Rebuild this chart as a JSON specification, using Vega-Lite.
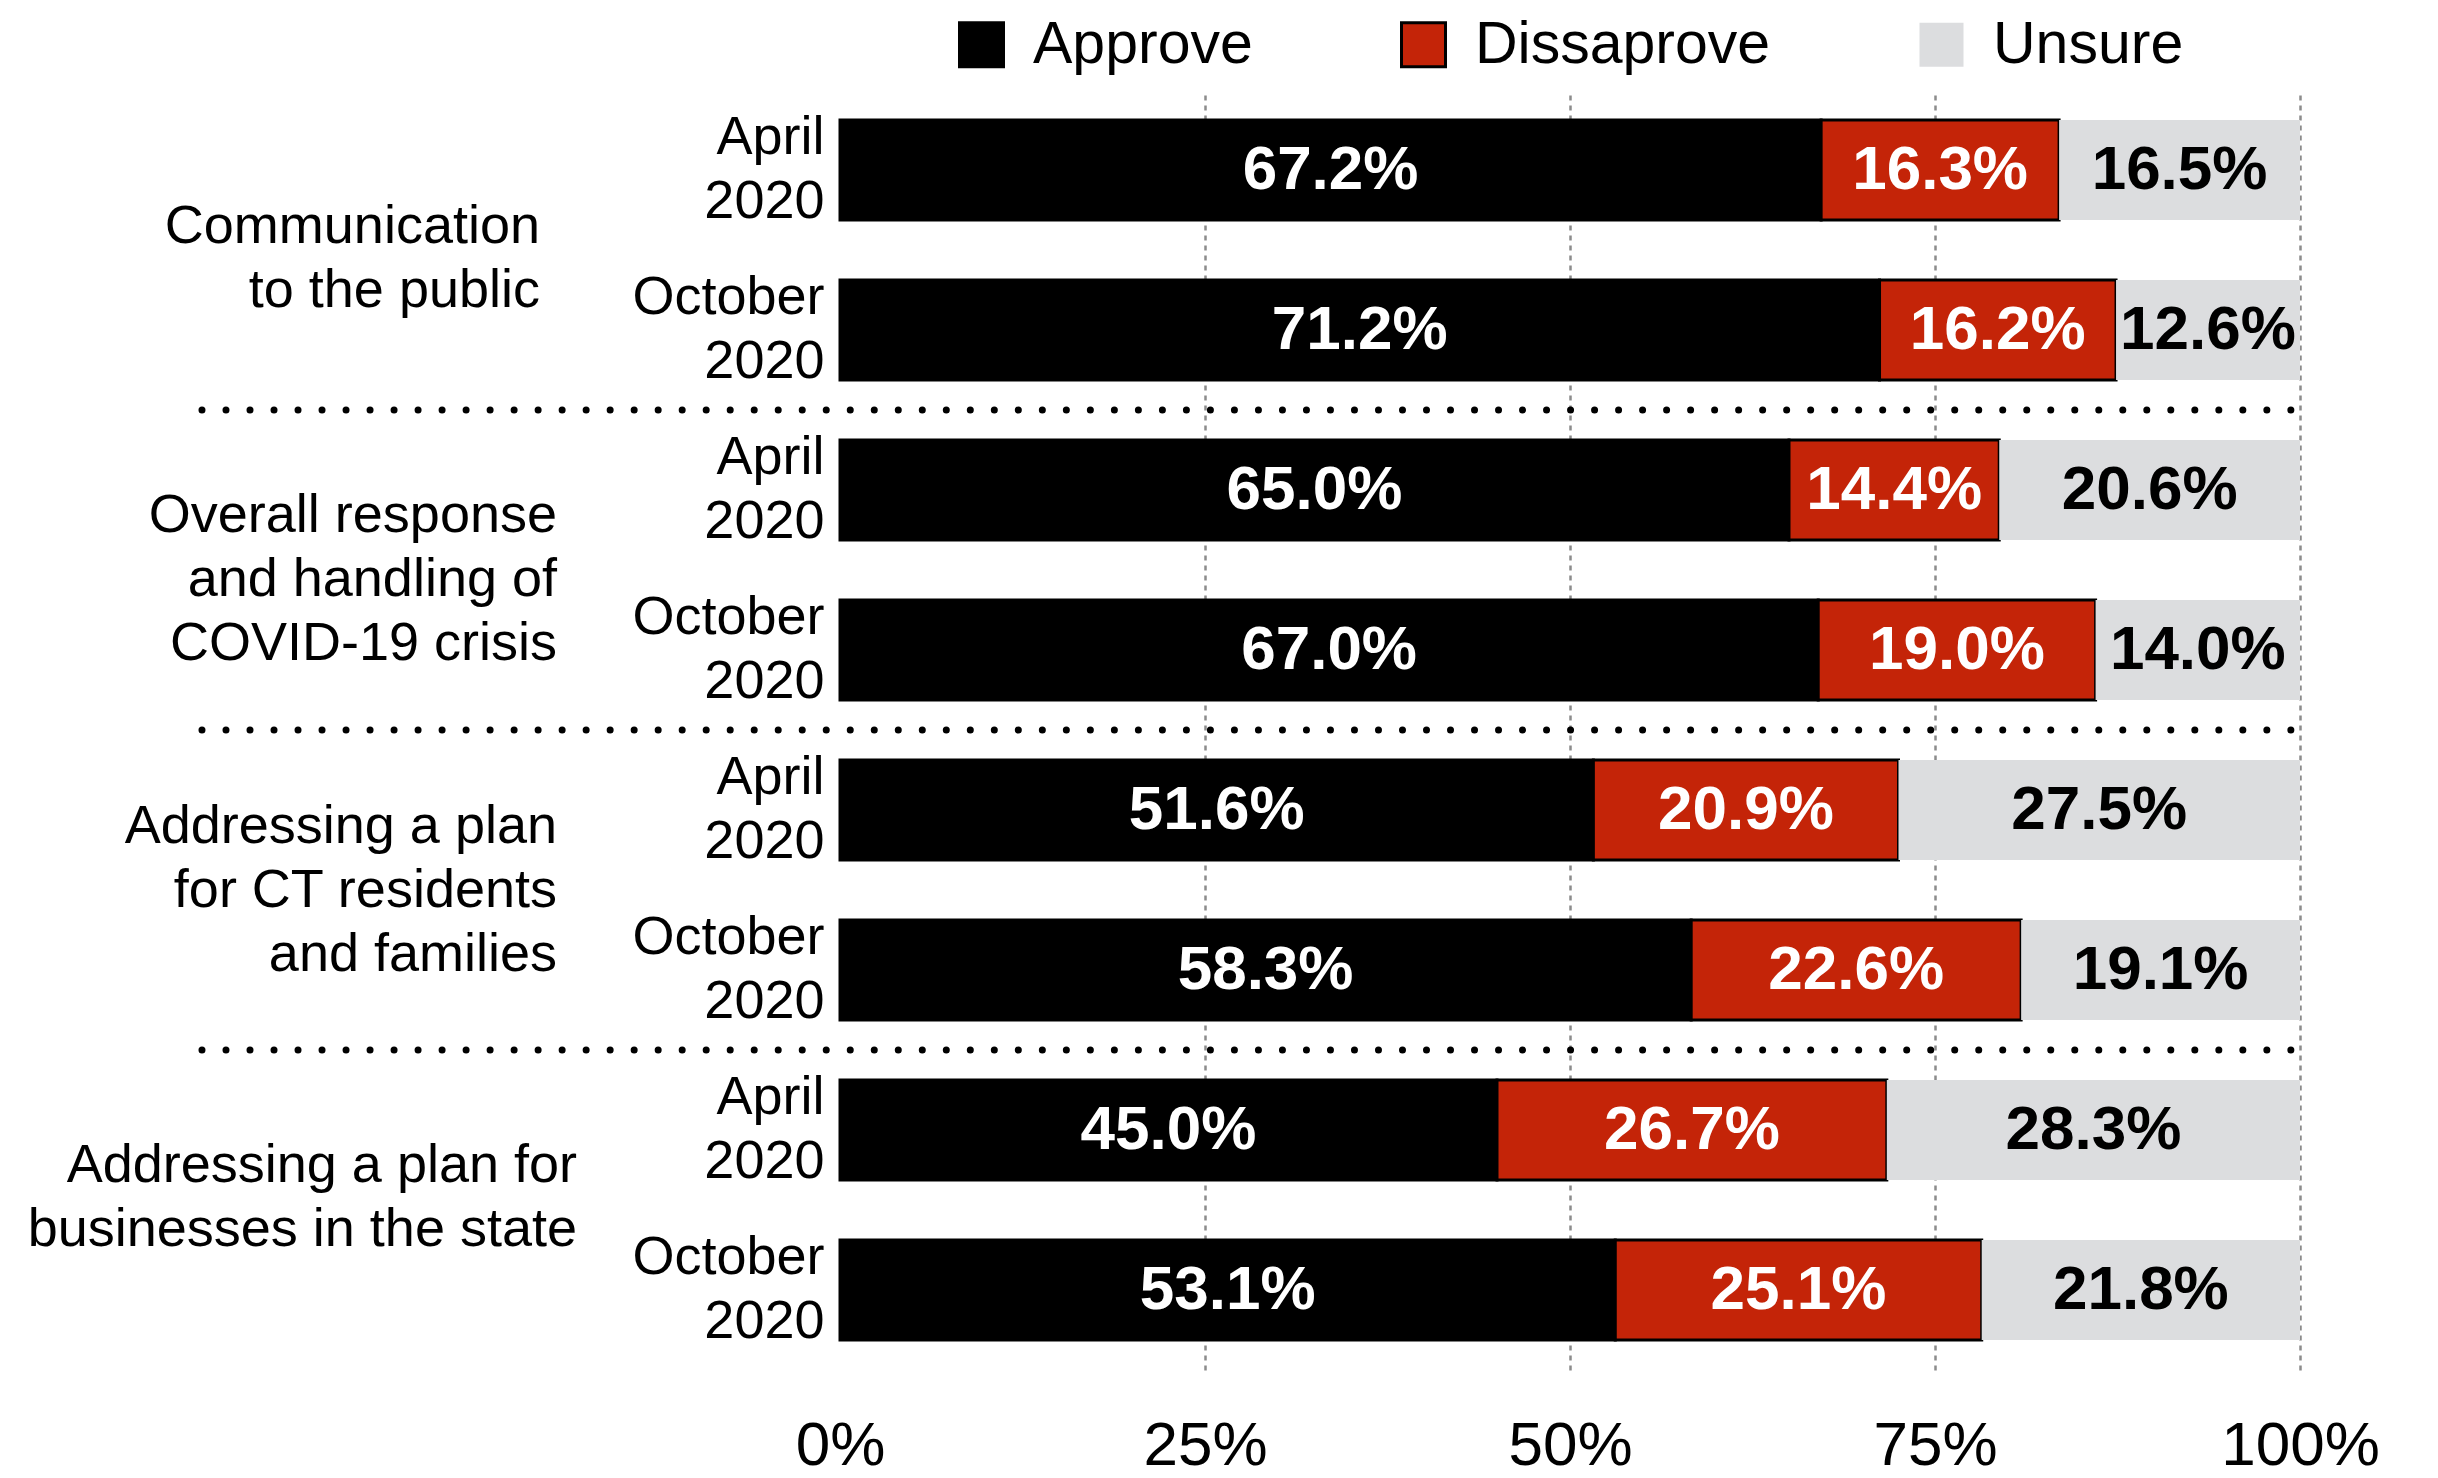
{
  "$schema": "https://vega.github.io/schema/vega-lite/v6.json",
  "width": 1460,
  "height": 1280,
  "autosize": {"type": "none"},
  "padding": {"left": 840, "top": 90, "right": 138, "bottom": 108},
  "background": "white",
  "config": {"view": {"stroke": null}, "font": "Liberation Sans"},
  "datasets": {
    "bars": [
      {"row": "Communication|April 2020", "answer": "Approve", "value": 0.672},
      {"row": "Communication|April 2020", "answer": "Dissaprove", "value": 0.163},
      {"row": "Communication|April 2020", "answer": "Unsure", "value": 0.165},
      {"row": "Communication|October 2020", "answer": "Approve", "value": 0.712},
      {"row": "Communication|October 2020", "answer": "Dissaprove", "value": 0.162},
      {"row": "Communication|October 2020", "answer": "Unsure", "value": 0.126},
      {"row": "Overall|April 2020", "answer": "Approve", "value": 0.650},
      {"row": "Overall|April 2020", "answer": "Dissaprove", "value": 0.144},
      {"row": "Overall|April 2020", "answer": "Unsure", "value": 0.206},
      {"row": "Overall|October 2020", "answer": "Approve", "value": 0.670},
      {"row": "Overall|October 2020", "answer": "Dissaprove", "value": 0.190},
      {"row": "Overall|October 2020", "answer": "Unsure", "value": 0.140},
      {"row": "Residents|April 2020", "answer": "Approve", "value": 0.516},
      {"row": "Residents|April 2020", "answer": "Dissaprove", "value": 0.209},
      {"row": "Residents|April 2020", "answer": "Unsure", "value": 0.275},
      {"row": "Residents|October 2020", "answer": "Approve", "value": 0.583},
      {"row": "Residents|October 2020", "answer": "Dissaprove", "value": 0.226},
      {"row": "Residents|October 2020", "answer": "Unsure", "value": 0.191},
      {"row": "Businesses|April 2020", "answer": "Approve", "value": 0.450},
      {"row": "Businesses|April 2020", "answer": "Dissaprove", "value": 0.267},
      {"row": "Businesses|April 2020", "answer": "Unsure", "value": 0.283},
      {"row": "Businesses|October 2020", "answer": "Approve", "value": 0.531},
      {"row": "Businesses|October 2020", "answer": "Dissaprove", "value": 0.251},
      {"row": "Businesses|October 2020", "answer": "Unsure", "value": 0.218}
    ],
    "groups": [
      {"row": "Communication|October 2020", "label": "Communication\nto the public"},
      {"row": "Overall|October 2020", "label": "Overall response\nand handling of\nCOVID-19 crisis"},
      {"row": "Residents|October 2020", "label": "Addressing a plan\nfor CT residents\nand families"},
      {"row": "Businesses|October 2020", "label": "Addressing a plan for\nbusinesses in the state"}
    ],
    "seps": [
      {"row": "Overall|April 2020"},
      {"row": "Residents|April 2020"},
      {"row": "Businesses|April 2020"}
    ]
  },
  "layer": [
    {
      "data": {"name": "bars"},
      "mark": {"type": "bar", "strokeWidth": 3},
      "encoding": {
        "y": {
          "field": "row", "type": "nominal",
          "scale": {
            "domain": ["Communication|April 2020", "Communication|October 2020", "Overall|April 2020", "Overall|October 2020", "Residents|April 2020", "Residents|October 2020", "Businesses|April 2020", "Businesses|October 2020"],
            "paddingInner": 0.375, "paddingOuter": 0.1875
          },
          "axis": {
            "title": null, "domain": false, "ticks": false, "grid": false,
            "labelExpr": "split(split(datum.value, '|')[1], ' ')",
            "labelFontSize": 54, "labelLineHeight": 64, "labelPadding": 16,
            "labelOffset": -32,
            "labelColor": "black", "labelFont": "Liberation Sans",
            "labelAlign": "right", "labelBaseline": "middle", "labelLimit": 0
          }
        },
        "x": {
          "field": "value", "type": "quantitative", "stack": "zero",
          "scale": {"domain": [0, 1], "nice": false},
          "axis": {
            "title": null, "domain": false, "ticks": false, "format": "%",
            "values": [0, 0.25, 0.5, 0.75, 1],
            "labelFontSize": 62, "labelPadding": 45, "labelColor": "black",
            "labelFont": "Liberation Sans", "labelFlush": false,
            "grid": true, "gridDash": [5, 5], "gridColor": "#8c8c8c", "gridWidth": 2.5,
            "gridOpacity": {"condition": {"test": "datum.value === 0", "value": 0}, "value": 1}
          }
        },
        "order": {"field": "answer", "type": "ordinal", "sort": "ascending"},
        "fill": {
          "field": "answer", "type": "nominal",
          "scale": {"domain": ["Approve", "Dissaprove", "Unsure"], "range": ["#000000", "#C42408", "#DCDDDF"]},
          "legend": {
            "title": null, "orient": "none", "legendX": 112, "legendY": -75,
            "direction": "horizontal", "symbolType": "square", "symbolSize": 1936,
            "symbolStrokeWidth": 3, "labelFontSize": 59, "labelFont": "Liberation Sans",
            "labelColor": "black", "labelOffset": 22, "columnPadding": 141,
            "padding": 0, "labelLimit": 0
          }
        },
        "stroke": {
          "field": "answer", "type": "nominal",
          "scale": {"domain": ["Approve", "Dissaprove", "Unsure"], "range": ["#000000", "#000000", "rgba(0,0,0,0)"]},
          "legend": {
            "title": null, "orient": "none", "legendX": 112, "legendY": -75,
            "direction": "horizontal", "symbolType": "square", "symbolSize": 1936,
            "symbolStrokeWidth": 3, "labelFontSize": 59, "labelFont": "Liberation Sans",
            "labelColor": "black", "labelOffset": 22, "columnPadding": 141,
            "padding": 0, "labelLimit": 0
          }
        }
      }
    },
    {
      "data": {"name": "bars"},
      "mark": {"type": "text", "fontSize": 62, "fontWeight": "bold", "baseline": "middle", "align": "center", "font": "Liberation Sans"},
      "encoding": {
        "y": {"field": "row", "type": "nominal"},
        "x": {"field": "value", "type": "quantitative", "stack": "zero", "bandPosition": 0.5},
        "order": {"field": "answer", "type": "ordinal", "sort": "ascending"},
        "detail": {"field": "answer", "type": "nominal"},
        "text": {"field": "value", "type": "quantitative", "format": ".1%"},
        "color": {"condition": {"test": "datum.answer === 'Unsure'", "value": "black"}, "value": "white"}
      }
    },
    {
      "data": {"name": "seps"},
      "mark": {"type": "rule", "strokeDash": [0.01, 24], "strokeCap": "round", "strokeWidth": 7, "color": "black", "yOffset": -30},
      "encoding": {
        "y": {"field": "row", "type": "nominal", "bandPosition": 0},
        "x": {"datum": -0.437},
        "x2": {"datum": 1}
      }
    },
    {
      "data": {"name": "groups"},
      "transform": [{"filter": "indexof(datum.row, 'Communication') === 0"}],
      "mark": {"type": "text", "align": "right", "baseline": "middle", "fontSize": 54, "lineHeight": 64, "lineBreak": "\n", "dx": -300, "dy": -23, "yOffset": -30, "color": "black", "font": "Liberation Sans"},
      "encoding": {
        "y": {"field": "row", "type": "nominal", "bandPosition": 0},
        "x": {"datum": 0},
        "text": {"field": "label", "type": "nominal"}
      }
    },
    {
      "data": {"name": "groups"},
      "transform": [{"filter": "indexof(datum.row, 'Overall') === 0"}],
      "mark": {"type": "text", "align": "right", "baseline": "middle", "fontSize": 54, "lineHeight": 64, "lineBreak": "\n", "dx": -283, "dy": -54, "yOffset": -30, "color": "black", "font": "Liberation Sans"},
      "encoding": {
        "y": {"field": "row", "type": "nominal", "bandPosition": 0},
        "x": {"datum": 0},
        "text": {"field": "label", "type": "nominal"}
      }
    },
    {
      "data": {"name": "groups"},
      "transform": [{"filter": "indexof(datum.row, 'Residents') === 0"}],
      "mark": {"type": "text", "align": "right", "baseline": "middle", "fontSize": 54, "lineHeight": 64, "lineBreak": "\n", "dx": -283, "dy": -63, "yOffset": -30, "color": "black", "font": "Liberation Sans"},
      "encoding": {
        "y": {"field": "row", "type": "nominal", "bandPosition": 0},
        "x": {"datum": 0},
        "text": {"field": "label", "type": "nominal"}
      }
    },
    {
      "data": {"name": "groups"},
      "transform": [{"filter": "indexof(datum.row, 'Businesses') === 0"}],
      "mark": {"type": "text", "align": "right", "baseline": "middle", "fontSize": 54, "lineHeight": 64, "lineBreak": "\n", "dx": -263, "dy": -44, "yOffset": -30, "color": "black", "font": "Liberation Sans"},
      "encoding": {
        "y": {"field": "row", "type": "nominal", "bandPosition": 0},
        "x": {"datum": 0},
        "text": {"field": "label", "type": "nominal"}
      }
    }
  ]
}
